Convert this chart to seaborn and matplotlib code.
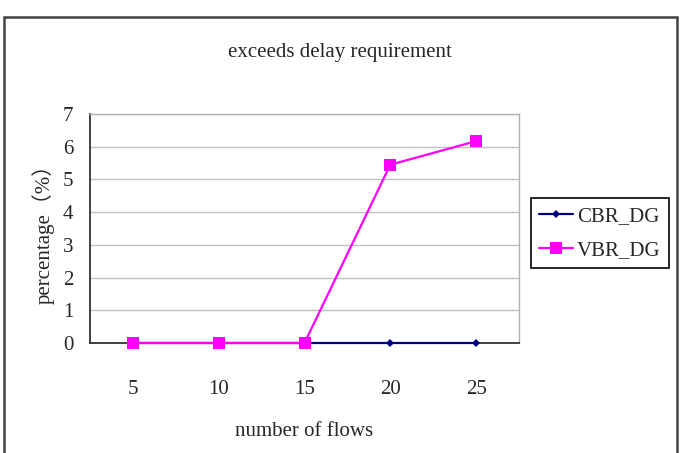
import matplotlib
matplotlib.use("Agg")
import matplotlib.pyplot as plt
import seaborn as sns
import pandas as pd
from matplotlib.patches import Rectangle

flows = [5, 10, 15, 20, 25]
cbr_dg = [0, 0, 0, 0, 0]
vbr_dg = [0, 0, 0, 5.45, 6.17]
series_names = ["CBR_DG", "VBR_DG"]
y_ticks = [0, 1, 2, 3, 4, 5, 6, 7]

df = pd.DataFrame({
    "flows": flows * 2,
    "value": cbr_dg + vbr_dg,
    "series": [series_names[0]] * len(flows) + [series_names[1]] * len(flows),
})

sns.set_theme(style="white")
plt.rcParams['font.family'] = ['Liberation Serif', 'Noto Sans CJK TC', 'DejaVu Sans']

fig = plt.figure(figsize=(6.8, 4.53), dpi=100)
ax = fig.add_axes([90/680, 1-343/453, 429/680, 229/453])

palette = {"CBR_DG": "#000080", "VBR_DG": "#FF00FF"}
markers = {"CBR_DG": "D", "VBR_DG": "s"}
sizes = {"CBR_DG": 4, "VBR_DG": 9}
for name in series_names:
    sub = df[df.series == name]
    sns.lineplot(data=sub, x="flows", y="value", ax=ax, color=palette[name],
                 marker=markers[name], markersize=sizes[name], markeredgewidth=0,
                 linewidth=1.6, label=name, zorder=3, clip_on=False)

ax.set_xlim(2.5, 27.5)
ax.set_ylim(0, 7)
ax.set_yticks(y_ticks)
ax.set_xticks(flows)
ax.set_xticks([7.5, 12.5, 17.5, 22.5], minor=True)
ax.yaxis.grid(True, color="#c0c0c0", linewidth=1)
ax.set_axisbelow(True)
ax.tick_params(axis="x", which="major", length=0, pad=27, labelsize=15)
ax.tick_params(axis="x", which="minor", direction="in", length=5, width=1, color="#333333")
ax.tick_params(axis="y", direction="in", length=5, width=1, color="#333333", pad=12, labelsize=15)
for s in ["left", "bottom"]:
    ax.spines[s].set_color("#333333")
    ax.spines[s].set_linewidth(1.3)
for s in ["top", "right"]:
    ax.spines[s].set_color("#b0b0b0")
    ax.spines[s].set_linewidth(1)

ax.set_xlabel("number of flows", fontsize=15, labelpad=16)
ax.set_ylabel("percentage（%）", fontsize=15, labelpad=6)
fig.text(340/680, 1-52/453, "exceeds delay requirement", ha="center", va="center", fontsize=15)

leg = ax.legend(loc="upper left", bbox_to_anchor=(531/680, 1-198/453), bbox_transform=fig.transFigure,
                frameon=True, fancybox=False, edgecolor="black", fontsize=15, handlelength=1.6,
                borderpad=0.4, labelspacing=0.7, handletextpad=0.2, borderaxespad=0, framealpha=1)
leg.get_frame().set_linewidth(1.2)

fig.patches.append(Rectangle((4/680, -0.05), 673/680, 1.05 - 17/453, transform=fig.transFigure,
                             fill=False, edgecolor="#444444", linewidth=1.8))

fig.savefig("out.png", dpi=100)
